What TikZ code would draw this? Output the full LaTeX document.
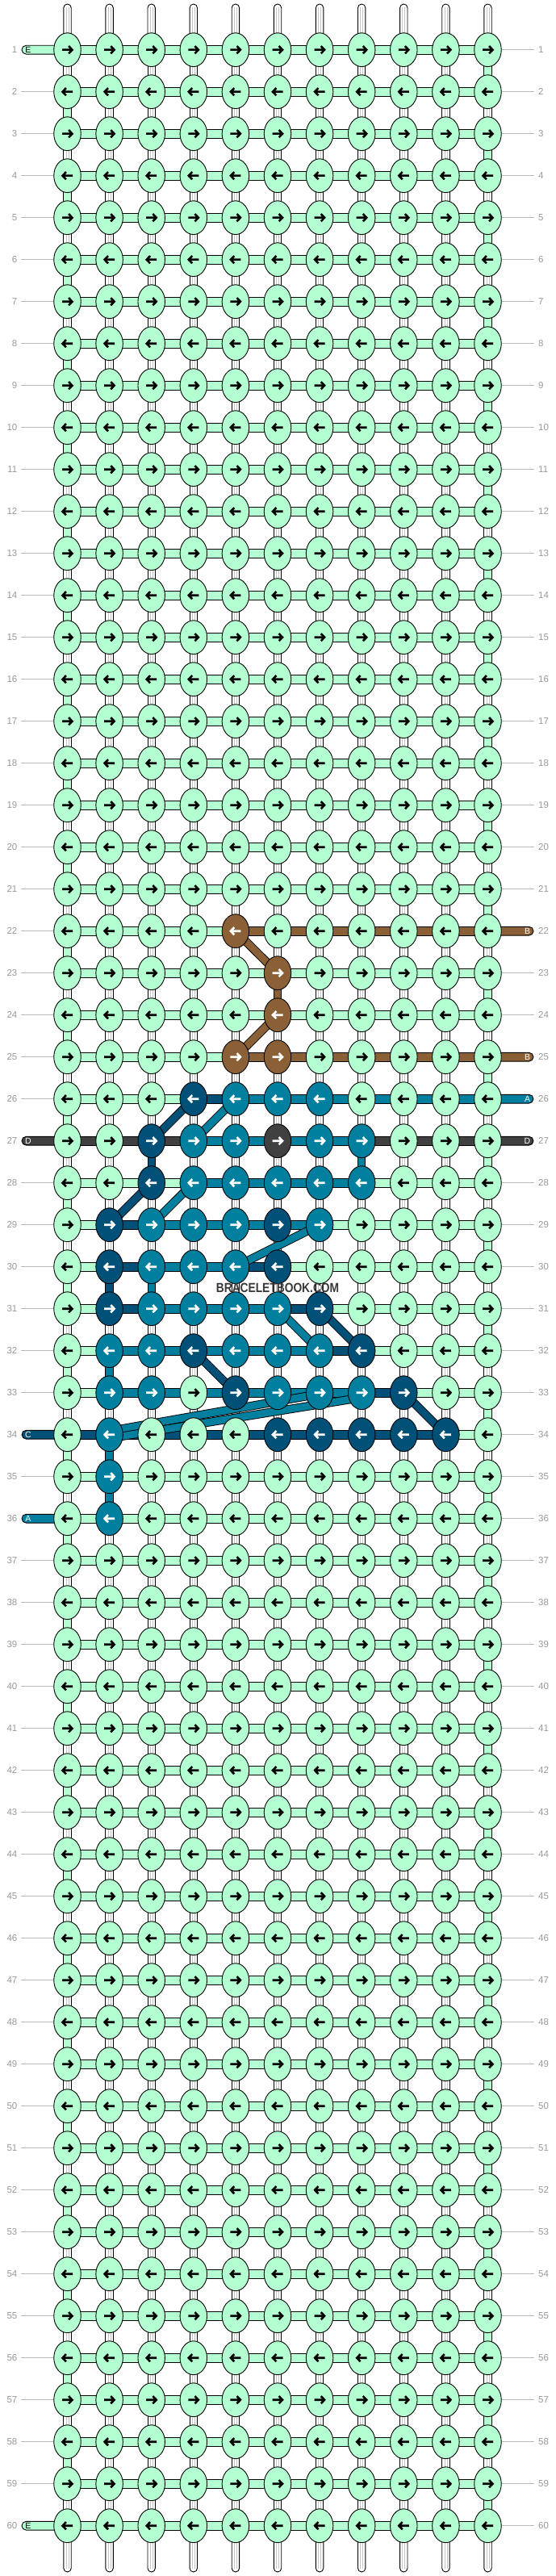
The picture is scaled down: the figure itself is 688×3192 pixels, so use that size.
\documentclass[tikz,border=0pt]{standalone}
\usepackage{fontspec}
\usepackage{graphicx}
\setmainfont{Liberation Sans}
\usetikzlibrary{shapes.geometric}
\definecolor{cg}{HTML}{B4FFD2}
\definecolor{ca}{HTML}{00809E}
\definecolor{cc}{HTML}{005078}
\definecolor{cb}{HTML}{8C6036}
\definecolor{cd}{HTML}{404040}
\definecolor{lblgray}{HTML}{999999}
\definecolor{linegray}{HTML}{BBBBBB}
\definecolor{strandgray}{HTML}{C4C4C4}
\definecolor{wmgray}{HTML}{383838}
\pgfdeclarelayer{bg}
\pgfdeclarelayer{mid}
\pgfsetlayers{bg,mid,main}

\newcommand\setrow[3]{\foreach \myv [count=\myi from 0] in {#3}{\expandafter\xdef\csname #1-#2-\myi\endcsname{\myv}}}
\newcommand\setv[3]{\expandafter\xdef\csname vc-#1-#2\endcsname{#3}}
\newcommand\setcap[4]{\expandafter\xdef\csname #1-#2\endcsname{#3}\expandafter\xdef\csname #1t-#2\endcsname{#4}}

\setrow{nc}{22}{g,g,g,g,b,g,g,g,g,g,g}
\setrow{nc}{23}{g,g,g,g,g,b,g,g,g,g,g}
\setrow{nc}{24}{g,g,g,g,g,b,g,g,g,g,g}
\setrow{nc}{25}{g,g,g,g,b,b,g,g,g,g,g}
\setrow{nc}{26}{g,g,g,c,a,a,a,g,g,g,g}
\setrow{nc}{27}{g,g,c,a,a,d,a,a,g,g,g}
\setrow{nc}{28}{g,g,c,a,a,a,a,a,g,g,g}
\setrow{nc}{29}{g,c,a,a,a,c,a,g,g,g,g}
\setrow{nc}{30}{g,c,a,a,a,c,g,g,g,g,g}
\setrow{nc}{31}{g,c,a,a,a,a,c,g,g,g,g}
\setrow{nc}{32}{g,a,a,c,a,a,a,c,g,g,g}
\setrow{nc}{33}{g,a,a,g,c,a,a,a,c,g,g}
\setrow{nc}{34}{g,a,g,g,g,c,c,c,c,c,g}
\setrow{nc}{35}{g,a,g,g,g,g,g,g,g,g,g}
\setrow{nc}{36}{g,a,g,g,g,g,g,g,g,g,g}

\setrow{bc}{22}{g,g,g,g,b,b,b,b,b,b}
\setrow{bc}{25}{g,g,g,g,b,b,b,b,b,b}
\setrow{bc}{26}{g,g,g,c,a,a,a,a,a,a}
\setrow{bc}{27}{d,d,d,a,a,a,a,d,d,d}
\setrow{bc}{28}{g,g,g,a,a,a,a,g,g,g}
\setrow{bc}{29}{g,c,a,a,a,a,g,g,g,g}
\setrow{bc}{30}{g,c,a,a,c,g,g,g,g,g}
\setrow{bc}{31}{g,c,a,a,a,c,g,g,g,g}
\setrow{bc}{32}{g,a,a,a,a,a,c,g,g,g}
\setrow{bc}{33}{g,a,a,a,a,a,a,c,g,g}
\setrow{bc}{34}{c,c,c,c,c,c,c,c,c,g}

\setv{23}{5}{b}
\setv{27}{2}{c}
\setv{27}{7}{a}
\setv{30}{1}{c}
\setv{30}{2}{a}
\setv{32}{1}{a}
\setv{34}{1}{a}
\setv{35}{1}{a}

\setcap{lc}{1}{g}{E}
\setcap{lc}{60}{g}{E}
\setcap{lc}{27}{d}{D}
\setcap{lc}{34}{c}{C}
\setcap{lc}{36}{a}{A}
\setcap{rc}{22}{b}{B}
\setcap{rc}{25}{b}{B}
\setcap{rc}{26}{a}{A}
\setcap{rc}{27}{d}{D}

\tikzset{
  knot/.style={ellipse, draw=black, line width=0.9pt, minimum width=33.5pt, minimum height=41.8pt, inner sep=0pt, outer sep=0pt},
  arr/.style={line width=2.6pt, line cap=butt, line join=miter},
  vwhite/.style={fill=white, draw=black, line width=0.9pt},
  vline/.style={draw=strandgray, line width=0.7pt},
  vbar/.style={draw=black, line width=0.9pt},
  hbar/.style={draw=black, line width=0.9pt},
  capbar/.style={draw=black, line width=0.9pt, rounded corners=5.4pt},
  gline/.style={draw=linegray, line width=0.8pt},
  lbl/.style={font=\fontsize{11.5}{12}\selectfont, text=lblgray, inner sep=0pt},
  captxt/.style={font=\fontsize{10.5}{11}\selectfont, inner sep=0pt},
  diagout/.style={draw=black, line width=10.6pt},
  diagin/.style={line width=8.8pt},
}

\begin{document}
\begin{tikzpicture}[x=1pt,y=-1pt]
\useasboundingbox (0,0) rectangle (688,3192);
\begin{pgfonlayer}{bg}
\fill[white] (0,0) rectangle (688,3192);
\end{pgfonlayer}

% knots
\foreach \rr in {1,...,60}{
  \pgfmathsetmacro\yy{61.7+52*(\rr-1)}
  \pgfmathtruncatemacro\odd{mod(\rr,2)}
  \ifnum\odd=1 \def\ta{-6.5}\def\tb{5.5}\def\tc{1.6}\def\td{6}\else\def\ta{6.5}\def\tb{-5.5}\def\tc{-1.6}\def\td{-6}\fi
  \foreach \kk in {0,...,10}{
    \pgfmathsetmacro\xx{83.5+52.1*\kk}
    \ifcsname nc-\rr-\kk\endcsname \edef\ncol{\csname nc-\rr-\kk\endcsname}\else\def\ncol{g}\fi
    \if g\ncol \def\acol{black}\else\def\acol{white}\fi
    \node[knot, fill=c\ncol] (n-\rr-\kk) at (\xx,\yy) {};
    \draw[arr, draw=\acol, shift={(n-\rr-\kk.center)}] (\ta,0) -- (\tb,0) (\tc,-4.6) -- (\td,0) -- (\tc,4.6);
  }
}

% row labels, edge lines and caps
\foreach \rr in {1,...,60}{
  \pgfmathsetmacro\yy{61.7+52*(\rr-1)}
  \node[lbl, anchor=east] (ll-\rr) at (21.5,\yy) {\rr};
  \node[lbl, anchor=west] (rl-\rr) at (667,\yy) {\rr};
  \coordinate (gl-\rr) at (26,\yy);
  \coordinate (gr-\rr) at (662,\yy);
  \coordinate (capl-\rr) at (27,\yy);
  \coordinate (capr-\rr) at (661,\yy);
  \ifcsname lc-\rr\endcsname
    \edef\lcol{\csname lc-\rr\endcsname}\edef\ltxt{\csname lct-\rr\endcsname}
    \if g\lcol \def\tcol{black}\else\def\tcol{white}\fi
    \begin{pgfonlayer}{bg}
    \draw[capbar, fill=c\lcol] ([yshift=-5.4pt]capl-\rr) rectangle ([yshift=5.4pt]n-\rr-0.center);
    \end{pgfonlayer}
    \node[captxt, text=\tcol] (lt-\rr) at (35,\yy) {\ltxt};
  \else
    \begin{pgfonlayer}{bg}
    \draw[gline] (gl-\rr) -- (n-\rr-0.center);
    \end{pgfonlayer}
  \fi
  \ifcsname rc-\rr\endcsname
    \edef\rcol{\csname rc-\rr\endcsname}\edef\rtxt{\csname rct-\rr\endcsname}
    \begin{pgfonlayer}{bg}
    \draw[capbar, fill=c\rcol] ([yshift=-5.4pt]n-\rr-10.center) rectangle ([yshift=5.4pt]capr-\rr);
    \end{pgfonlayer}
    \node[captxt, text=white] (rt-\rr) at (653.5,\yy) {\rtxt};
  \else
    \begin{pgfonlayer}{bg}
    \draw[gline] (n-\rr-10.center) -- (gr-\rr);
    \end{pgfonlayer}
  \fi
}

\begin{pgfonlayer}{bg}
% top and bottom strands
\foreach \kk in {0,...,10}{
  \pgfmathsetmacro\xx{83.5+52.1*\kk}
  \coordinate (top-\kk) at (\xx,5);
  \coordinate (bot-\kk) at (\xx,3187);
  \path[vwhite, rounded corners=4.7pt] ([xshift=-4.7pt]n-1-\kk.center) -- ([xshift=-4.7pt]top-\kk) -- ([xshift=4.7pt]top-\kk) -- ([xshift=4.7pt]n-1-\kk.center);
  \path[vwhite, rounded corners=4.7pt] ([xshift=-4.7pt]n-60-\kk.center) -- ([xshift=-4.7pt]bot-\kk) -- ([xshift=4.7pt]bot-\kk) -- ([xshift=4.7pt]n-60-\kk.center);
  \draw[vline] ([xshift=-1.5pt,yshift=-4pt]top-\kk) -- ([xshift=-1.5pt]n-1-\kk.center)
               ([xshift=1.5pt,yshift=-4pt]top-\kk) -- ([xshift=1.5pt]n-1-\kk.center)
               ([xshift=-1.5pt,yshift=4pt]bot-\kk) -- ([xshift=-1.5pt]n-60-\kk.center)
               ([xshift=1.5pt,yshift=4pt]bot-\kk) -- ([xshift=1.5pt]n-60-\kk.center);
}
% vertical connectors
\foreach \rr in {1,...,59}{
  \pgfmathtruncatemacro\rn{\rr+1}
  \pgfmathtruncatemacro\odd{mod(\rr,2)}
  \foreach \kk in {0,...,10}{
    \ifcsname vc-\rr-\kk\endcsname \edef\vcol{\csname vc-\rr-\kk\endcsname}\else
      \def\vcol{w}%
      \ifnum\odd=1 \ifnum\kk=10 \def\vcol{g}\fi\else\ifnum\kk=0 \def\vcol{g}\fi\fi
    \fi
    \if w\vcol
      \draw[vwhite] ([xshift=-4.7pt]n-\rr-\kk.center) rectangle ([xshift=4.7pt]n-\rn-\kk.center);
      \draw[vline] ([xshift=-1.5pt]n-\rr-\kk.center) -- ([xshift=-1.5pt]n-\rn-\kk.center)
                   ([xshift=1.5pt]n-\rr-\kk.center) -- ([xshift=1.5pt]n-\rn-\kk.center);
    \else
      \draw[vbar, fill=c\vcol] ([xshift=-4.7pt]n-\rr-\kk.center) rectangle ([xshift=4.7pt]n-\rn-\kk.center);
    \fi
  }
}
% horizontal bars
\foreach \rr in {1,...,60}{
  \foreach \kk in {0,...,9}{
    \pgfmathtruncatemacro\kn{\kk+1}
    \ifcsname bc-\rr-\kk\endcsname \edef\bcol{\csname bc-\rr-\kk\endcsname}\else\def\bcol{g}\fi
    \draw[hbar, fill=c\bcol] ([yshift=-5.4pt]n-\rr-\kk.center) rectangle ([yshift=5.4pt]n-\rr-\kn.center);
  }
}
\end{pgfonlayer}

% diagonal threads
\begin{pgfonlayer}{mid}
\foreach \a/\b/\col in {22-4/23-5/cb, 24-5/25-4/cb, 26-3/27-2/cc, 28-2/29-1/cc, 31-6/32-7/cc, 32-3/33-4/cc, 33-8/34-9/cc, 26-4/27-3/ca, 28-3/29-2/ca, 29-6/30-4/ca, 31-5/32-6/ca}{
  \draw[diagout] (n-\a.center) -- (n-\b.center);
  \draw[diagin, draw=\col] (n-\a.center) -- (n-\b.center);
}
\draw[diagout] ([yshift=-1.5pt]n-33-6.center) -- ([yshift=4.5pt]n-34-1.center);
\draw[diagin, draw=ca] ([yshift=-1.5pt]n-33-6.center) -- ([yshift=4.5pt]n-34-1.center);
\draw[diagout] ([yshift=-6pt]n-33-7.center) -- ([yshift=-4.5pt]n-34-1.center);
\draw[diagin, draw=ca] ([yshift=-6pt]n-33-7.center) -- ([yshift=-4.5pt]n-34-1.center);
\end{pgfonlayer}

% watermark
\node[font=\bfseries\fontsize{16.3}{17}\selectfont, text=wmgray, inner sep=0pt] (wm) at (344,1596) {\scalebox{0.845}[1]{BRACELETBOOK.COM}};
\end{tikzpicture}
\end{document}
